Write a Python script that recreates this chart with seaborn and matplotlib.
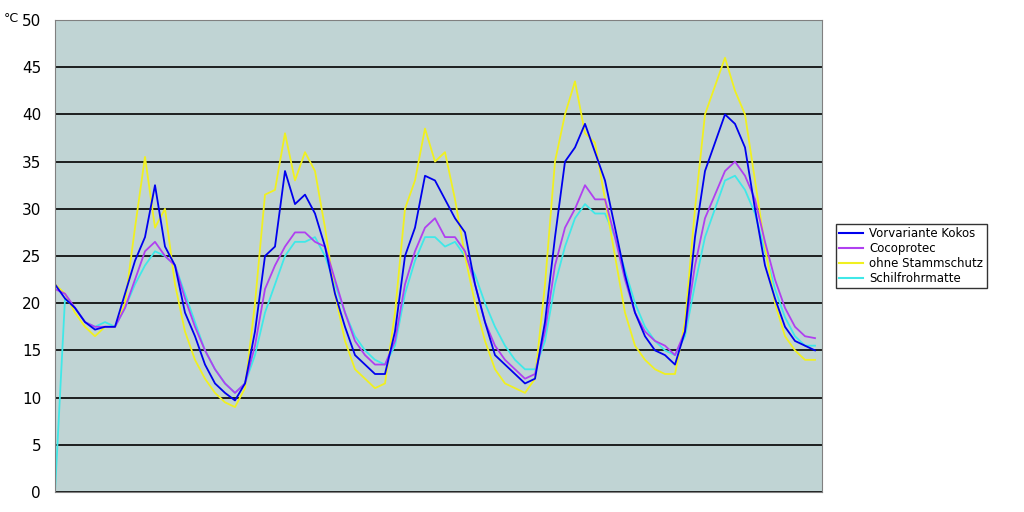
import numpy as np
import pandas as pd
import matplotlib
matplotlib.use("Agg")
import matplotlib.pyplot as plt
import seaborn as sns

# values, one sample per ~10 px of the x axis
kokos = [22, 20.5, 19.5, 18, 17.2, 17.5, 17.5, 21, 24.5, 27, 32.5, 26, 24, 19, 16.5, 13.5, 11.5, 10.5, 9.7, 11.5,
         17, 25, 26, 34, 30.5, 31.5, 29.5, 26, 21, 17.5, 14.5, 13.5, 12.5, 12.5, 17, 25, 28, 33.5, 33, 31,
         29, 27.5, 22, 18, 14.5, 13.5, 12.5, 11.5, 12, 18, 27, 35, 36.5, 39, 36, 33, 28, 23, 19, 16.5,
         15, 14.5, 13.5, 17, 27, 34, 37, 40, 39, 36.5, 30, 24, 20.5, 17.5, 16, 15.5, 15]
coco = [21.5, 21, 19.5, 18, 17.5, 17.5, 17.5, 19.5, 22.5, 25.5, 26.5, 25, 24, 20.5, 17.5, 15, 13, 11.5, 10.5, 11.5,
        15.5, 21.5, 24, 26, 27.5, 27.5, 26.5, 26, 22.5, 19, 16, 14.5, 13.5, 13.5, 16, 22, 25.5, 28, 29, 27,
        27, 25.5, 22, 18, 15.5, 14, 13, 12, 12.5, 17, 24, 28, 30, 32.5, 31, 31, 27, 22.5, 19, 17,
        16, 15.5, 14.5, 17, 24, 29, 31.5, 34, 35, 33.5, 31, 26.5, 22.5, 19.5, 17.5, 16.5, 16.3]
ohne = [22, 21, 19, 17.5, 16.5, 17.5, 17.5, 20, 28, 35.5, 28, 30, 22, 17, 14, 12, 10.5, 9.5, 9, 11,
        20, 31.5, 32, 38, 33, 36, 34, 28, 21, 16, 13, 12, 11, 11.5, 19, 30, 33, 38.5, 35, 36,
        31, 25, 20, 16, 13, 11.5, 11, 10.5, 12, 22, 35, 40, 43.5, 38, 37, 31, 25, 19, 15.5, 14,
        13, 12.5, 12.5, 18, 30, 40, 43, 46, 42.5, 40, 33, 26, 20, 16.5, 15, 14, 14]
schilf = [0, 20.5, 19.5, 18, 17.5, 18, 17.5, 19.5, 22, 24, 25.5, 25, 24, 21, 18, 15, 13, 11.5, 10.5, 11.5,
          14.5, 19, 22, 25, 26.5, 26.5, 27, 25, 22, 19, 16.5, 15, 14, 13.5, 15.5, 21, 24.5, 27, 27, 26,
          26.5, 25, 23, 20, 17.5, 15.5, 14, 13, 13, 16, 22, 26, 29, 30.5, 29.5, 29.5, 27, 23.5, 20, 17.5,
          16, 15, 14.5, 16.5, 22, 27, 30, 33, 33.5, 32, 29.5, 25.5, 21.5, 18.5, 16.5, 15.5, 15.5]
names = ["Vorvariante Kokos", "Cocoprotec", "ohne Stammschutz", "Schilfrohrmatte"]
colors = ["#0000ee", "#b040f0", "#f0f020", "#40e8e8"]

df = pd.DataFrame({"t": np.arange(len(kokos)), names[0]: kokos, names[1]: coco,
                   names[2]: ohne, names[3]: schilf})
long = df.melt(id_vars="t", var_name="serie", value_name="temp")

fig = plt.figure(figsize=(10.24, 5.12), dpi=100)
ax = fig.add_axes([55 / 1024, 20 / 512, 767 / 1024, 472 / 512])
ax.set_facecolor("#c0d4d4")
sns.lineplot(data=long, x="t", y="temp", hue="serie", palette=dict(zip(names, colors)),
             hue_order=[names[3], names[2], names[1], names[0]], lw=1.3, ax=ax, legend=False)

ax.set_xlim(0, len(kokos) - 0.3)
ax.set_ylim(0, 50)
ax.set_yticks(range(0, 51, 5))
ax.set_xticks([])
ax.set_xlabel("")
ax.set_ylabel("")
ax.yaxis.grid(True, color="black", lw=1.2)
ax.set_axisbelow(True)
ax.tick_params(axis="y", labelsize=11, length=0, pad=10)
for s in ax.spines.values():
    s.set_color("#808080")
fig.text(4 / 1024, 1 - 18 / 512, "°C", fontsize=9, va="center")

handles = [plt.Line2D([], [], color=c, lw=1.5) for c in colors]
fig.legend(handles, names, loc="upper left", bbox_to_anchor=(830 / 1024, 1 - 218 / 512),
           fontsize=8.5, frameon=True, fancybox=False, edgecolor="black",
           handlelength=2.0, handletextpad=0.5, borderpad=0.3, labelspacing=0.15)

fig.savefig("out.png", dpi=100)
